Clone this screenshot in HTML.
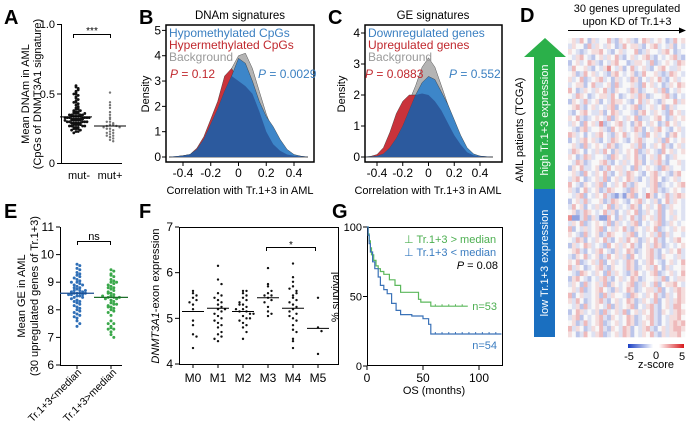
<!DOCTYPE html>
<html><head><meta charset="utf-8"><style>
html,body{margin:0;padding:0;background:#fff;}
svg{display:block;font-family:"Liberation Sans",Arial,sans-serif;}
</style></head><body>
<svg id="fig" width="689" height="428" viewBox="0 0 689 428" xmlns="http://www.w3.org/2000/svg">
<g id="gA">
<text x="4" y="24" font-size="20" font-weight="bold">A</text>
<line x1="61.5" y1="24" x2="61.5" y2="163" stroke="#000"/>
<line x1="61" y1="163.5" x2="122" y2="163.5" stroke="#000"/>
<g stroke="#000"><line x1="57" y1="24.5" x2="61" y2="24.5"/><line x1="57" y1="94" x2="61" y2="94"/><line x1="57" y1="163.5" x2="61" y2="163.5"/></g>
<g font-size="11" text-anchor="end"><text x="55" y="28">1.0</text><text x="55" y="98">0.5</text><text x="55" y="167">0</text></g>
<g font-size="11" text-anchor="middle"><text x="79" y="179">mut-</text><text x="110" y="179">mut+</text></g>
<text transform="translate(29,94) rotate(-90)" font-size="11" text-anchor="middle">Mean DNAm in AML</text>
<text transform="translate(41,94) rotate(-90)" font-size="11" text-anchor="middle">(CpGs of DNMT3A1 signature)</text>
<path d="M73.5,38 V34.5 H110.5 V38" fill="none" stroke="#000"/>
<text x="92" y="34" font-size="10" text-anchor="middle">***</text>
</g>
<g id="gB">
<text x="139" y="24" font-size="20" font-weight="bold">B</text>
<text x="240" y="19" font-size="11.5" text-anchor="middle">DNAm signatures</text>
<text transform="translate(149,94) rotate(-90)" font-size="11" text-anchor="middle">Density</text>
<text x="240" y="194" font-size="11" text-anchor="middle">Correlation with Tr.1+3 in AML</text>
</g>
<g id="gC">
<text x="328" y="24" font-size="20" font-weight="bold">C</text>
<text x="433" y="19" font-size="11.5" text-anchor="middle">GE signatures</text>
<text transform="translate(345,94) rotate(-90)" font-size="11" text-anchor="middle">Density</text>
<text x="428" y="194" font-size="11" text-anchor="middle">Correlation with Tr.1+3 in AML</text>
</g>
<g id="gD">
<text x="520" y="22" font-size="20" font-weight="bold">D</text>
<text x="627" y="12" font-size="11" text-anchor="middle">30 genes upregulated</text>
<text x="627" y="25" font-size="11" text-anchor="middle">upon KD of Tr.1+3</text>
<line x1="568" y1="30.5" x2="681" y2="30.5" stroke="#000"/>
<path d="M686,30.5 L679,27.5 L679,33.5 Z" fill="#000"/>
<path d="M545,38 L566,57 L555,57 L555,189 L534,189 L534,57 L524,57 Z" fill="#2bb04a"/>
<rect x="534" y="189" width="21" height="148" fill="#1a6fc0"/>
<text transform="translate(548,120) rotate(-90)" font-size="11" fill="#fff" text-anchor="middle">high Tr.1+3 expression</text>
<text transform="translate(548,263) rotate(-90)" font-size="11" fill="#fff" text-anchor="middle">low Tr.1+3 expression</text>
<text transform="translate(523,130) rotate(-90)" font-size="11" text-anchor="middle">AML patients (TCGA)</text>
<g id="heat"></g>
<defs><linearGradient id="cb" x1="0" x2="1"><stop offset="0" stop-color="#1a3fc4"/><stop offset="0.45" stop-color="#fff"/><stop offset="0.55" stop-color="#fff"/><stop offset="1" stop-color="#d7191c"/></linearGradient></defs>
<rect x="628" y="344" width="56" height="4" fill="url(#cb)"/>
<g font-size="11" text-anchor="middle"><text x="629" y="360">-5</text><text x="656" y="359">0</text><text x="682" y="360">5</text></g>
<text x="656" y="368" font-size="11" text-anchor="middle">z-score</text>
</g>
<g id="gE">
<text x="4" y="218" font-size="20" font-weight="bold">E</text>
<text transform="translate(25,296) rotate(-90)" font-size="11" text-anchor="middle">Mean GE in AML</text>
<text transform="translate(38,296) rotate(-90)" font-size="11" text-anchor="middle">(30 upregulated genes of Tr.1+3)</text>
<text transform="translate(82,373) rotate(-45)" font-size="10.5" text-anchor="end">Tr.1+3&lt;median</text>
<text transform="translate(117,373) rotate(-45)" font-size="10.5" text-anchor="end">Tr.1+3&gt;median</text>
<path d="M77.5,245 V241.5 H110.5 V245" fill="none" stroke="#000"/>
<text x="94" y="240" font-size="11" text-anchor="middle">ns</text>
</g>
<g id="gF">
<text x="139" y="218" font-size="20" font-weight="bold">F</text>
<text transform="translate(159,296) rotate(-90)" font-size="11" text-anchor="middle"><tspan font-style="italic">DNMT3A1</tspan>-exon expression</text>
<path d="M266.5,251 V247.5 H315.5 V251" fill="none" stroke="#000"/>
<text x="291" y="248" font-size="10" text-anchor="middle">*</text>
</g>
<g id="gG">
<text x="332" y="218" font-size="20" font-weight="bold">G</text>
<text transform="translate(339,297) rotate(-90)" font-size="11" text-anchor="middle">% survival</text>
<text x="434" y="394" font-size="11" text-anchor="middle">OS (months)</text>
<text x="404" y="243" font-size="11" fill="#4caf50">⊥ Tr.1+3 &gt; median</text>
<text x="404" y="256" font-size="11" fill="#3a7cc0">⊥ Tr.1+3 &lt; median</text>
<text x="498" y="269" font-size="11" text-anchor="end"><tspan font-style="italic">P</tspan> = 0.08</text>
<text x="497" y="310" font-size="11" fill="#4caf50" text-anchor="end">n=53</text>
<text x="497" y="349" font-size="11" fill="#3a7cc0" text-anchor="end">n=54</text>
</g>
</svg>
<script>
// ---- Panel A data
const aMutNeg = [0.55,0.56,0.54,0.52,0.51,0.50,0.49,0.48,0.47,0.46,0.45,0.44,0.43,0.42,0.41,0.40,0.40,0.39,0.39,0.38,0.38,0.37,0.37,0.37,0.36,0.36,0.36,0.35,0.35,0.35,0.35,0.34,0.34,0.34,0.34,0.34,0.33,0.33,0.33,0.33,0.33,0.33,0.32,0.32,0.32,0.32,0.32,0.31,0.31,0.31,0.31,0.31,0.30,0.30,0.30,0.30,0.30,0.29,0.29,0.29,0.29,0.28,0.28,0.28,0.28,0.27,0.27,0.27,0.26,0.26,0.26,0.25,0.25,0.25,0.24,0.24,0.23,0.23,0.22,0.50,0.53,0.44,0.36,0.33,0.32,0.31,0.29,0.27];
const aMutPos = [0.51,0.44,0.42,0.40,0.37,0.35,0.33,0.32,0.30,0.29,0.28,0.28,0.27,0.27,0.26,0.26,0.25,0.24,0.23,0.22,0.21,0.20,0.19,0.18,0.17,0.16,0.30,0.25,0.22,0.20];
const aMedians = [0.335, 0.27];
// ---- Density data (x grid -0.5..0.5 step 0.05)
const densX = [-0.5,-0.45,-0.4,-0.35,-0.3,-0.25,-0.2,-0.15,-0.1,-0.05,0,0.05,0.1,0.15,0.2,0.25,0.3,0.35,0.4,0.45,0.5];
const bBackground = [0,0.02,0.05,0.1,0.3,0.7,1.3,2.0,2.8,3.5,4.0,4.1,3.5,2.6,1.7,1.0,0.5,0.2,0.08,0.03,0];
const bHypo = [0,0.02,0.05,0.1,0.3,0.7,1.3,1.9,2.6,3.2,3.9,3.7,3.0,2.2,1.6,1.2,0.7,0.3,0.1,0.03,0];
const bHyper = [0,0.02,0.05,0.1,0.35,0.8,1.5,2.2,3.2,3.5,3.0,2.8,2.5,1.8,1.0,0.5,0.25,0.1,0.05,0.02,0];
const cBackground = [0,0.02,0.05,0.15,0.4,0.8,1.3,1.8,2.3,2.9,3.2,2.9,2.3,1.7,1.1,0.6,0.25,0.08,0.03,0.01,0];
const cDown = [0,0.01,0.03,0.1,0.3,0.6,1.0,1.5,2.0,2.4,2.6,2.5,2.1,1.7,1.2,0.7,0.3,0.1,0.03,0.01,0];
const cUp = [0,0.02,0.08,0.3,0.8,1.4,1.8,2.0,2.0,2.05,2.0,1.8,1.5,1.1,0.7,0.4,0.15,0.05,0.02,0.01,0];
const densXTicks = [-0.4,-0.2,0,0.2,0.4];
const densXTickLabels = ["-0.4","-0.2","0","0.2","0.4"];
const bYTicks = [0,1,2,3,4,5];
const cYTicks = [0,1,2,3,4];
// ---- Heatmap data (a=-5 ... e=0 ... i=5)
const hmRows = [
"efdgecfdeegdcfefdcegfdefecdgef","dfeecgdfedfecdgeffdcefgdedfced","fedcdeffgedcefdeegcdfeedfgecde","edfgedcefdfegdcefdefgdcedefgdc",
"cefdegfdcedfgeecdffedgcdefedgf","dgeefdcedfhedfcegdefdcefgeddfe","efcdgefdedcfgedefcdgeefdcdgfed","fdegcdefgdecfdedgfcedfegdcefde",
"deffcegddefcgdeefdcgefdecdfegf","gecdfedfegdcfeedgfcdeefdgcedfe","edgfecdeffdgecdefdgfcdeefgdced","cfedgdefcedgffedcegdfedcfeegdf",
"efgdcefdedfgcedefgcdefdegcfdee","dcefgeddfcegfdeedcfgedfedcgefd","fegdcdefedgcfedfegcddefgecdfef","dfecgefdhcdefgdecfgedfecdgefde",
"edcfgdeefdcgefdedgfcedfgedcefd","gfdecedfgedcfegdefdcgefdecfged","cedfgefdcedgfedcefgdeedfcgedef","efdcgdefedgfcdeefdgcedfegdcefd",
"dgfecedfdgecfdefegcdfedcgefdef","fecdgfdeedcgfedfegdcefdgecdfee","edgfcdeefgdcedfdegfcedfgdceefd","cfegddefcdgeffdecgdefedcgfdeed",
"efdcgedfegdcefdgfedcefgdedcfge","dfgecdefdgcefdegfdcedfgecdefde","gedcfedfgcedfegdcfeedfgcdedefg","fdcegdefcdgfeedcgfedefgdcdefed",
"edfgcedfegdcbdbfgcedhfcedgdfgf","cefdgdeefcdgfedcefgdedfcegdfed","dgefcedfdegcfdedgfcefdegcdfeed","efcdgfedegdfcedfegcdfedgcefded",
"hbbdgcfdbbgecfdegdcfefdgcedfed","dfegcdefedgcfdedfgcedefgcdfede","gcedfdefgcedfegdcfedfegcdedfef","fedcgdefcdgfeedfgcedefdgcfdeed",
"edgfcedfegdcefdgefcdfegdcedfge","cfdegfdedcgefdfegdcefdgfcdedef","efgdcedfgedcfdegfcdefgdcedfegd","dcfegdefcdgefdfcgedefgdcfeedfd",
"fegcdefdgcefdedgfcedfgedcefdeg","gdfecdefgdcfeedgfcdefdgecfdeef","edcgfedfecgdfedcfgedefgcdefdeg","cfgedcedfgdcefdegfcdeefdgcedff",
"dfecgdefdgcfedefgcdfedgceffged","efdgcdefgedcfdegfcdeffdgcedfgf","gcefddefcgdfeedcgfedfegdcfdegf","fdgecdefgdcefdegfcdfedgcefdfgf",
"edfcgdefedgcfdefgcedfgdcefdgge","cegfdedfcgdefdgcefdfegdcfedfgf","dfgcedefgdcfedegfcdefgdcedffge","efcdgdefgcdefdegfcdfegdcedfgfg",
"gdfecdfegdcfedgfcedfgdcefdfggf","fecdgedfgcdefdgfcedfegdcfdffge"];
const hmLevels = {a:-5,b:-3,c:-1.8,d:-0.8,e:0,f:0.8,g:1.8,h:3,i:5};
// ---- Panel E data
const eLow = [9.65,9.6,9.5,9.45,9.35,9.3,9.25,9.2,9.15,9.1,9.05,9.0,8.95,8.9,8.9,8.85,8.8,8.8,8.75,8.7,8.7,8.65,8.65,8.6,8.6,8.6,8.55,8.55,8.5,8.5,8.45,8.45,8.4,8.35,8.3,8.25,8.2,8.15,8.1,8.05,8.0,7.95,7.9,7.85,7.8,7.75,7.7,7.6,7.5,7.4,8.6,8.55,8.7,9.0,8.3];
const eHigh = [9.45,9.4,9.3,9.25,9.2,9.1,9.05,9.0,8.95,8.9,8.85,8.8,8.75,8.7,8.65,8.6,8.55,8.5,8.45,8.45,8.4,8.4,8.35,8.3,8.25,8.2,8.15,8.1,8.05,8.0,7.95,7.9,7.8,7.6,7.5,7.4,7.35,7.3,7.2,7.1,7.0,8.45,8.5,8.6,9.0,8.2,7.5,7.3,8.8,8.1];
const eMedians = [8.6, 8.45];
const eYTicks = [6,7,8,9,10,11];
// ---- Panel F data
const fCategories = ["M0","M1","M2","M3","M4","M5"];
const fM0 = [5.6,5.55,5.5,5.45,5.4,5.35,5.3,5.2,4.95,4.85,4.65,4.6,4.35];
const fM1 = [6.15,5.85,5.75,5.55,5.5,5.4,5.35,5.3,5.25,5.2,5.15,5.1,5.05,5.0,4.95,4.9,4.85,4.8,4.7,4.65,4.6,4.55,4.5,5.45,5.2];
const fM2 = [5.6,5.55,5.5,5.45,5.4,5.35,5.3,5.25,5.2,5.15,5.15,5.1,5.05,5.0,4.95,4.9,4.85,4.8,4.7,4.55,5.2,5.1,5.3,5.0,5.6];
const fM3 = [6.1,5.75,5.7,5.6,5.55,5.5,5.45,5.4,5.35,5.25,5.15,5.1,5.05,5.5];
const fM4 = [6.2,5.9,5.8,5.7,5.6,5.5,5.45,5.4,5.35,5.3,5.2,5.1,5.0,4.95,4.85,4.75,4.55,4.5,4.35,5.65,5.25,5.05,4.7,5.55,5.15];
const fM5 = [5.45,4.8,4.72,4.22];
const fMedians = [5.15,5.22,5.15,5.45,5.22,4.78];
const fYTicks = [4,5,6,7];
// ---- Panel G data
const gHighT = [0,1,2,3,4,6,8,10,12,15,20,25,30,35,40,46,48,57,90];
const gHighS = [100,95,90,85,80,76,72,70,68,66,62,58,53,53,53,48,46,43,43];
const gLowT = [0,1,2,3,5,7,10,12,15,18,22,26,30,35,40,50,55,57,120];
const gLowS = [100,94,88,82,75,70,64,58,55,52,45,40,37,37,36,34,30,23,23];
const gYTicks = [0,50,100];
const gXTicks = [0,50,100];

const NS = "http://www.w3.org/2000/svg";
function mk(tag, attrs, parent){ const e=document.createElementNS(NS,tag); for(const k in attrs) e.setAttribute(k,attrs[k]); parent.appendChild(e); return e; }
function lin(d0,d1,r0,r1){ return v => r0 + (v-d0)/(d1-d0)*(r1-r0); }

function swarm(vals, cx, yScale, g, r, color, step, name, binH){
  const bins = {};
  vals.forEach(v=>{
    const y = yScale(v);
    const b = Math.round(y/ binH);
    const n = bins[b] = (bins[b]||0)+1;
    const k = n-1;
    const off = k===0?0:(k%2? 1:-1)*Math.ceil(k/2)*step;
    const c = mk('circle',{cx:cx+off, cy:y, r:r, fill:color}, g);
    
    
  });
}

// Panel A
(function(){
  const g = document.getElementById('gA');
  const y = lin(0,1,163.5,24.5);
  swarm(aMutNeg, 76, y, g, 1.4, '#111', 2.2, 'a-point-mut-neg', 2.2);
  swarm(aMutPos, 110, y, g, 1.2, '#777', 3.2, 'a-point-mut-pos', 3);
  const xs=[76,110];
  aMedians.forEach((m,i)=>{
    const l = mk('line',{x1:xs[i]-16,x2:xs[i]+16,y1:y(m),y2:y(m),stroke:'#000','stroke-width':1},g);
    
    
  });
})();

// Density panels
function densityPanel(gid, box, xs, yMax, yTicks, series, legend, pvals){
  const g = document.getElementById(gid);
  const x = lin(-0.4,0.4,box.xm4,box.xp4);
  const y = lin(0,yMax,box.y0,box.yTop);
  const clipId = gid+'clip';
  const cp = mk('clipPath',{id:clipId},g);
  mk('rect',{x:box.l,y:box.t,width:box.r-box.l,height:box.b-box.t},cp);
  const area = vals => {
    let d = 'M'+x(densX[0])+','+y(0);
    densX.forEach((v,i)=>{ d += ' L'+x(v).toFixed(1)+','+y(vals[i]).toFixed(1); });
    return d + ' L'+x(densX[densX.length-1])+','+y(0)+' Z';
  };
  const fg = mk('g',{'clip-path':'url(#'+clipId+')'},g);
  series.forEach(s=>{
    const p = mk('path',{d:area(s.vals),fill:s.color,stroke:'#333','stroke-width':0.4},fg);
    
    
  });
  const minVals = densX.map((_,i)=>Math.min(...series.map(s=>s.vals[i])));
  const ov = mk('path',{d:area(minVals),fill:'#2c5a9e'},fg);
  
  
  const frame = mk('rect',{x:box.l,y:box.t,width:box.r-box.l,height:box.b-box.t,fill:'none',stroke:'#000','stroke-width':1.5},g);
  
  
  yTicks.forEach(t=>{
    mk('line',{x1:box.l-4,x2:box.l,y1:y(t),y2:y(t),stroke:'#000'},g);
    const tx = mk('text',{x:box.l-5,y:y(t)+4,'font-size':12,'text-anchor':'end'},g);
    tx.textContent = t;
    
    
  });
  densXTicks.forEach((t,i)=>{
    mk('line',{x1:x(t),x2:x(t),y1:box.b,y2:box.b+4,stroke:'#000'},g);
    const tx = mk('text',{x:x(t),y:box.b+15,'font-size':12,'text-anchor':'middle'},g);
    tx.textContent = densXTickLabels[i];
    
    
  });
  legend.forEach((L,i)=>{
    const tx = mk('text',{x:box.l+3,y:box.t+12+i*12,'font-size':12,fill:L.color},g);
    tx.textContent = L.text;
    
    
  });
  pvals.forEach(P=>{
    const tx = mk('text',{x:P.x,y:box.t+53,'font-size':12,fill:P.color},g);
    const ts = mk('tspan',{'font-style':'italic'},tx); ts.textContent='P';
    const ts2 = mk('tspan',{},tx); ts2.textContent=' = '+P.v;
    
    
  });
}
densityPanel('gB',{l:166,r:314,t:25,b:162,xm4:183,xp4:294,y0:157,yTop:30.4},densX,5,bYTicks,
  [{vals:bBackground,color:'#b4b4b4',name:'density-background'},{vals:bHyper,color:'#c9333b',name:'density-hypermethylated'},{vals:bHypo,color:'#3d86c9',name:'density-hypomethylated'}],
  [{text:'Hypomethylated CpGs',color:'#3a7fc1'},{text:'Hypermethylated CpGs',color:'#c0282e'},{text:'Background',color:'#9a9a9a'}],
  [{x:170,v:'0.12',color:'#c0282e'},{x:258,v:'0.0029',color:'#3a7fc1'}]);
densityPanel('gC',{l:365,r:502,t:25,b:162,xm4:377,xp4:480,y0:157,yTop:33},densX,4,cYTicks,
  [{vals:cBackground,color:'#b4b4b4',name:'density-background'},{vals:cUp,color:'#c9333b',name:'density-upregulated'},{vals:cDown,color:'#3d86c9',name:'density-downregulated'}],
  [{text:'Downregulated genes',color:'#3a7fc1'},{text:'Upregulated genes',color:'#c0282e'},{text:'Background',color:'#9a9a9a'}],
  [{x:365,v:'0.0883',color:'#c0282e'},{x:449,v:'0.552',color:'#3a7fc1'}]);

// Heatmap
(function(){
  const g = document.getElementById('heat');
  const x0=568,x1=685,y0=38,y1=337;
  const cw=(x1-x0)/30, ch=(y1-y0)/hmRows.length;
  function col(v){
    const t=Math.min(1,Math.abs(v)/6.5);
    const c = v<0?[26,63,196]:[215,25,28];
    return 'rgb('+[0,1,2].map(i=>Math.round(248-(248-c[i])*t)).join(',')+')';
  }
  hmRows.forEach((row,ri)=>{
    for(let ci=0;ci<30;ci++){
      const v = hmLevels[row[ci]];
      const r = mk('rect',{x:(x0+ci*cw).toFixed(2),y:(y0+ri*ch).toFixed(2),width:(cw+0.3).toFixed(2),height:(ch+0.3).toFixed(2),fill:col(v)},g);
      
      
    }
  });
})();

// Panel E
(function(){
  const g = document.getElementById('gE');
  const y = lin(6,11,365,227);
  mk('line',{x1:60.5,x2:60.5,y1:227,y2:365,stroke:'#000'},g);
  mk('line',{x1:60,x2:122,y1:365.5,y2:365.5,stroke:'#000'},g);
  eYTicks.forEach(t=>{
    mk('line',{x1:56,x2:60,y1:y(t),y2:y(t),stroke:'#000'},g);
    const tx=mk('text',{x:54,y:y(t)+4,'font-size':12,'text-anchor':'end'},g);
    tx.textContent=t;
    
    
  });
  [77,111].forEach(cx=>mk('line',{x1:cx,x2:cx,y1:365,y2:369,stroke:'#000'},g));
  swarm(eLow, 77, y, g, 1.5, '#2f6fb7', 2.8, 'e-point-low', 3.5);
  swarm(eHigh, 111, y, g, 1.5, '#3aa84a', 2.8, 'e-point-high', 3.5);
  [77,111].forEach((cx,i)=>{
    const l=mk('line',{x1:cx-17,x2:cx+17,y1:y(eMedians[i]),y2:y(eMedians[i]),stroke:i?'#1e6e2a':'#1b4d8f','stroke-width':1.3},g);
    
    
  });
})();

// Panel F
(function(){
  const g = document.getElementById('gF');
  const y = lin(4,7,364,227);
  const x = i => 193 + i*25;
  const fr = mk('rect',{x:179.5,y:227.5,width:159,height:137,fill:'none',stroke:'#000'},g);
  
  
  fYTicks.forEach(t=>{
    mk('line',{x1:175,x2:179,y1:y(t),y2:y(t),stroke:'#000'},g);
    const tx=mk('text',{x:173,y:y(t)+4,'font-size':12,'text-anchor':'end'},g);
    tx.textContent=t;
    
    
  });
  const groups=[fM0,fM1,fM2,fM3,fM4,fM5];
  fCategories.forEach((c,i)=>{
    mk('line',{x1:x(i),x2:x(i),y1:364,y2:368,stroke:'#000'},g);
    const tx=mk('text',{x:x(i),y:382,'font-size':12,'text-anchor':'middle'},g);
    tx.textContent=c;
    
    
    swarm(groups[i], x(i), y, g, 1.2, '#111', 3.5, 'f-point', 6);
    const l=mk('line',{x1:x(i)-11,x2:x(i)+11,y1:y(fMedians[i]),y2:y(fMedians[i]),stroke:'#000'},g);
    
    
  });
})();

// Panel G
(function(){
  const g = document.getElementById('gG');
  const x = lin(0,100,367,479);
  const y = lin(0,100,366,227);
  const fr = mk('rect',{x:367.5,y:227.5,width:135,height:138,fill:'none',stroke:'#000'},g);
  
  
  gYTicks.forEach(t=>{
    mk('line',{x1:363,x2:367,y1:y(t),y2:y(t),stroke:'#000'},g);
    const tx=mk('text',{x:362,y:y(t)+4,'font-size':11,'text-anchor':'end'},g);
    tx.textContent=t;
    
    
  });
  gXTicks.forEach(t=>{
    mk('line',{x1:x(t),x2:x(t),y1:366,y2:370,stroke:'#000'},g);
    const tx=mk('text',{x:x(t),y:382,'font-size':12,'text-anchor':'middle'},g);
    tx.textContent=t;
    
    
  });
  function km(T,S,color,name,xEnd){
    let d='M'+x(T[0])+','+y(S[0]);
    for(let i=1;i<T.length;i++){ d+=' H'+x(T[i]).toFixed(1)+' V'+y(S[i]).toFixed(1); }
    d+=' H'+x(xEnd).toFixed(1);
    const p=mk('path',{d:d,fill:'none',stroke:color,'stroke-width':1.2},g);
    
    
    const last=S[S.length-1], tl=T[T.length-2];
    for(let t=tl+4;t<xEnd;t+=6){
      mk('line',{x1:x(t),x2:x(t),y1:y(last)-2,y2:y(last),stroke:color},g);
    }
  }
  km(gHighT,gHighS,'#5cb85c','km-curve-high',90);
  km(gLowT,gLowS,'#3a72b8','km-curve-low',120);
})();
</script>
</body></html>
